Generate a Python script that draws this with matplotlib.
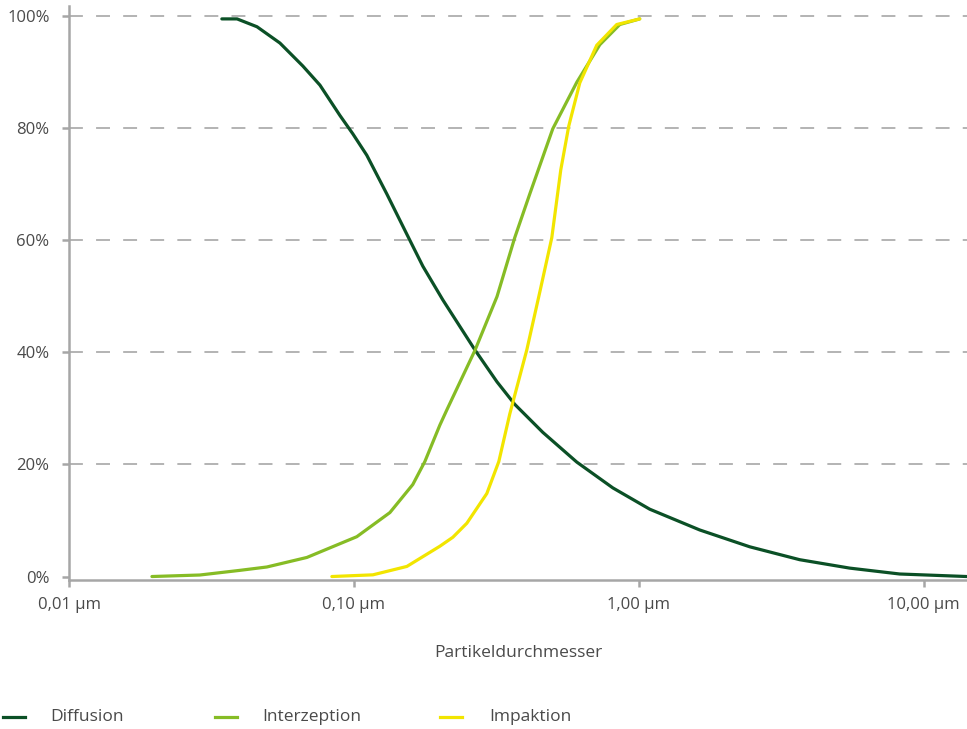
import matplotlib
matplotlib.use("Agg")
import matplotlib.pyplot as plt
from matplotlib.lines import Line2D
from matplotlib.ticker import FixedLocator, NullLocator

plt.rcParams['font.family'] = ['Open Sans', 'DejaVu Sans']
plt.rcParams['lines.scale_dashes'] = False

# Abscheidegrad je Mechanismus über dem Partikeldurchmesser (µm, %)
diff_x = [0.0344, 0.0389, 0.0457, 0.055, 0.0662, 0.076, 0.0893, 0.0992, 0.111, 0.1305,
          0.1535, 0.1747, 0.2053, 0.266, 0.318, 0.367, 0.4605, 0.606, 0.811, 1.093,
          1.637, 2.452, 3.672, 5.5, 8.24, 14.16]
diff_y = [99.4, 99.4, 98.0, 95.1, 91.0, 87.6, 82.2, 78.9, 75.1, 68.2,
          61.0, 55.3, 49.3, 40.4, 34.7, 30.7, 25.7, 20.4, 15.8, 12.0,
          8.3, 5.3, 3.0, 1.5, 0.45, 0.0]

inter_x = [0.01955, 0.0288, 0.0398, 0.0495, 0.0684, 0.1024, 0.1338, 0.161, 0.1775, 0.2004,
           0.212, 0.266, 0.318, 0.347, 0.367, 0.4145, 0.499, 0.606, 0.730, 0.858, 1.008]
inter_y = [0.0, 0.27, 1.1, 1.7, 3.4, 7.1, 11.4, 16.4, 20.5, 27.0,
           29.7, 40.3, 49.9, 56.3, 60.4, 68.2, 79.8, 88.1, 94.8, 98.4, 99.4]

impak_x = [0.0837, 0.1166, 0.1535, 0.2004, 0.2226, 0.2492, 0.2929, 0.3227, 0.3527, 0.4046,
           0.4494, 0.4952, 0.5325, 0.568, 0.621, 0.712, 0.837, 1.008]
impak_y = [0.0, 0.3, 1.8, 5.4, 7.0, 9.5, 14.8, 20.5, 29.0, 40.4,
           50.7, 60.4, 72.5, 80.3, 88.0, 94.7, 98.4, 99.4]

series = [("Diffusion", diff_x, diff_y, "#0b5026"),
          ("Interzeption", inter_x, inter_y, "#86bc25"),
          ("Impaktion", impak_x, impak_y, "#f2e500")]

x_ticks = [0.01, 0.1, 1, 10]
x_labels = ["0,01 µm", "0,10 µm", "1,00 µm", "10,00 µm"]
y_ticks = [0, 20, 40, 60, 80, 100]
y_labels = ["0%", "20%", "40%", "60%", "80%", "100%"]

txt = "#4a4a4a"
axis_grey = "#a6a6a6"
fs = 12.5

fig = plt.figure(figsize=(9.67, 7.29), dpi=100)
ax = fig.add_axes([69 / 967, 1 - 580 / 729, 1 - 69 / 967, (580 - 6) / 729])

for name, xs, ys, col in series:
    ax.plot(xs, ys, color=col, lw=2.3, solid_capstyle='round', solid_joinstyle='round', zorder=3)

ax.set_xscale('log')
ax.set_xlim(0.01, 14.2)
ax.set_ylim(-0.62, 101.7)

ax.xaxis.set_major_locator(FixedLocator(x_ticks))
ax.xaxis.set_minor_locator(NullLocator())
ax.set_xticklabels(x_labels)
ax.set_yticks(y_ticks)
ax.set_yticklabels(y_labels)

for yv in y_ticks[1:]:
    ax.axhline(yv, color="#b3b3b3", lw=1.4, dashes=(10, 9.5), zorder=1)

for side in ['top', 'right']:
    ax.spines[side].set_visible(False)
for side in ['left', 'bottom']:
    ax.spines[side].set_color(axis_grey)
    ax.spines[side].set_linewidth(1.8)

ax.tick_params(axis='both', colors=axis_grey, width=1.8, length=5, labelcolor=txt, labelsize=12)
ax.tick_params(axis='x', pad=7)
ax.tick_params(axis='y', pad=9)

ax.set_xlabel("Partikeldurchmesser", fontsize=fs, color=txt, labelpad=23)

# Legende unter dem Diagramm
legend_pos = [(3, 50), (215, 262), (440, 489)]
for (name, xs, ys, col), (lx, tx) in zip(series, legend_pos):
    yl = 1 - 717 / 729
    fig.add_artist(Line2D([lx / 967, (lx + 22) / 967], [yl, yl], color=col, lw=2.3,
                          transform=fig.transFigure))
    fig.text(tx / 967, yl, name, fontsize=fs, color=txt, va='center', ha='left')

fig.savefig("out.png", dpi=100)
